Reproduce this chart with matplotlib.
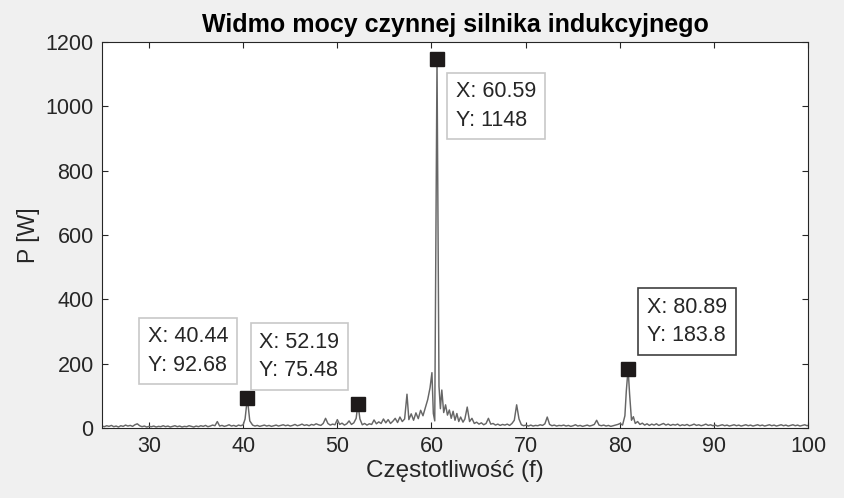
import matplotlib
matplotlib.use("Agg")
import matplotlib.pyplot as plt

# spectrum (Hz, W)
freq_hz = [
    25.0, 25.25, 25.5, 25.75, 26.0, 26.25, 26.5, 26.75, 27.0, 27.25,
    27.5, 27.75, 28.0, 28.25, 28.5, 28.75, 29.0, 29.25, 29.5, 29.75,
    30.0, 30.25, 30.5, 30.75, 31.0, 31.25, 31.5, 31.75, 32.0, 32.25,
    32.5, 32.75, 33.0, 33.25, 33.5, 33.75, 34.0, 34.25, 34.5, 34.75,
    35.0, 35.25, 35.5, 35.75, 36.0, 36.25, 36.5, 36.75, 37.0, 37.25,
    37.5, 37.75, 38.0, 38.25, 38.5, 38.75, 39.0, 39.25, 39.5, 39.75,
    40.0, 40.2, 40.44, 40.7, 41.0, 41.25, 41.5, 41.75, 42.0, 42.25,
    42.5, 42.75, 43.0, 43.25, 43.5, 43.75, 44.0, 44.25, 44.5, 44.75,
    45.0, 45.25, 45.5, 45.75, 46.0, 46.25, 46.5, 46.75, 47.0, 47.25,
    47.5, 47.75, 48.0, 48.25, 48.5, 48.75, 49.0, 49.25, 49.5, 49.75,
    50.0, 50.25, 50.5, 50.75, 51.0, 51.25, 51.5, 51.75, 52.0, 52.19,
    52.4, 52.65, 52.9, 53.15, 53.4, 53.65, 53.9, 54.15, 54.4, 54.65,
    54.9, 55.15, 55.4, 55.65, 55.9, 56.15, 56.4, 56.65, 56.9, 57.15,
    57.4, 57.6, 57.85, 58.1, 58.35, 58.6, 58.85, 59.1, 59.35, 59.6,
    59.85, 60.05, 60.2, 60.35, 60.59, 60.8, 60.95, 61.1, 61.3, 61.5,
    61.7, 61.9, 62.1, 62.3, 62.5, 62.7, 62.9, 63.1, 63.35, 63.55,
    63.8, 64.05, 64.3, 64.55, 64.8, 65.05, 65.3, 65.55, 65.8, 66.05,
    66.3, 66.55, 66.8, 67.05, 67.3, 67.55, 67.8, 68.05, 68.3, 68.55,
    68.8, 69.05, 69.3, 69.55, 69.8, 70.05, 70.3, 70.55, 70.8, 71.05,
    71.3, 71.55, 71.8, 72.05, 72.3, 72.55, 72.8, 73.05, 73.3, 73.55,
    73.8, 74.05, 74.3, 74.55, 74.8, 75.05, 75.3, 75.55, 75.8, 76.05,
    76.3, 76.55, 76.8, 77.05, 77.3, 77.55, 77.8, 78.05, 78.3, 78.55,
    78.8, 79.05, 79.3, 79.55, 79.8, 80.05, 80.3, 80.55, 80.7, 80.89,
    81.05, 81.25, 81.45, 81.65, 81.9, 82.15, 82.4, 82.65, 82.9, 83.15,
    83.4, 83.65, 83.9, 84.15, 84.4, 84.65, 84.9, 85.15, 85.4, 85.65,
    85.9, 86.15, 86.4, 86.65, 86.9, 87.15, 87.4, 87.65, 87.9, 88.15,
    88.4, 88.65, 88.9, 89.15, 89.4, 89.65, 89.9, 90.15, 90.4, 90.65,
    90.9, 91.15, 91.4, 91.65, 91.9, 92.15, 92.4, 92.65, 92.9, 93.15,
    93.4, 93.65, 93.9, 94.15, 94.4, 94.65, 94.9, 95.15, 95.4, 95.65,
    95.9, 96.15, 96.4, 96.65, 96.9, 97.15, 97.4, 97.65, 97.9, 98.15,
    98.4, 98.65, 98.9, 99.15, 99.4, 99.65, 99.9, 100.0,
]
power_w = [
    6, 4, 7, 5, 8, 4, 6, 3, 7, 5,
    9, 6, 8, 5, 10, 13, 7, 4, 6, 3,
    5, 4, 6, 3, 5, 4, 7, 4, 6, 3,
    5, 7, 4, 6, 3, 5, 4, 7, 5, 3,
    6, 4, 7, 5, 8, 4, 6, 9, 7, 20,
    6, 8, 5, 7, 10, 6, 8, 5, 9, 7,
    10, 28, 92.68, 22, 9, 6, 8, 5, 7, 9,
    6, 8, 5, 7, 9, 6, 8, 10, 7, 9,
    6, 8, 11, 7, 9, 12, 8, 10, 7, 11,
    9, 13, 10, 8, 14, 30, 14, 9, 12, 10,
    26, 11, 15, 9, 13, 22, 11, 16, 30, 75.48,
    28, 10, 14, 9, 13, 11, 25, 13, 19, 14,
    28, 16, 26, 14, 21, 30, 17, 34, 20, 28,
    105, 26, 44, 24, 47, 29, 55, 38, 63, 88,
    125, 172, 45, 22, 1148, 130, 60, 118, 48, 72,
    40, 56, 30, 52, 24, 45, 20, 34, 18, 28,
    65, 20, 30, 14, 18, 12, 16, 10, 14, 30,
    12, 14, 9, 12, 8, 11, 9, 12, 8, 14,
    24, 72, 28, 10, 7, 9, 6, 9, 6, 8,
    7, 10, 8, 13, 34, 11, 7, 9, 6, 8,
    7, 9, 6, 8, 5, 7, 10, 6, 8, 5,
    7, 9, 6, 8, 11, 24, 9, 7, 9, 6,
    8, 5, 7, 9, 11, 14, 9, 38, 115, 183.8,
    105, 24, 35, 14, 20, 11, 15, 9, 13, 8,
    12, 9, 13, 8, 11, 14, 9, 12, 8, 11,
    9, 12, 7, 10, 8, 11, 7, 9, 12, 8,
    10, 7, 9, 12, 8, 10, 7, 9, 6, 8,
    10, 7, 9, 6, 8, 10, 7, 9, 6, 8,
    10, 7, 9, 6, 8, 10, 7, 9, 6, 8,
    10, 7, 9, 6, 8, 10, 7, 9, 6, 8,
    10, 7, 9, 6, 8, 10, 7, 8,
]

# data tips shown on the chart
tip_f = [40.44, 52.19, 60.59, 80.89]
tip_p = [92.68, 75.48, 1148, 183.8]
tip_box_side = ["left", "left", "right", "right"]
tip_edge = ["#c8c8c8", "#c8c8c8", "#c8c8c8", "#404040"]

x_ticks = [30, 40, 50, 60, 70, 80, 90, 100]
y_ticks = [0, 200, 400, 600, 800, 1000, 1200]

plt.rcParams["font.family"] = ["Liberation Sans", "DejaVu Sans"]
ink = "#262626"

fig = plt.figure(figsize=(8.45, 4.98), dpi=100, facecolor="#f0f0f0")
ax = fig.add_axes([0.1207, 0.1406, 0.8355, 0.7751])
ax.set_facecolor("white")

ax.plot(freq_hz, power_w, color="#666666", linewidth=1.05, zorder=2)
ax.plot(tip_f, tip_p, linestyle="none", marker="s", markersize=10.5,
        color="#1e1a1a", zorder=3)

for f, p, side, edge in zip(tip_f, tip_p, tip_box_side, tip_edge):
    # box to the right of the marker -> text anchored by its left edge
    if side == "right":
        dx, ha = 13.5, "left"
    else:
        dx, ha = -13.5, "right"
    dy = -34 if p > 1000 else 34
    ax.annotate(f"X: {f:g}\nY: {p:g}", xy=(f, p), xytext=(dx, dy),
                textcoords="offset points", ha=ha, va="center",
                multialignment="left", fontsize=15.5, color=ink,
                linespacing=1.45, zorder=4,
                bbox=dict(boxstyle="square,pad=0.4", facecolor="white",
                          edgecolor=edge, linewidth=1.2))

ax.set_xlim(25, 100)
ax.set_ylim(0, 1200)
ax.set_xticks(x_ticks)
ax.set_yticks(y_ticks)
ax.tick_params(direction="in", length=4.5, width=0.8, colors=ink,
               labelsize=15.5, top=True, right=True, pad=6)
for s in ax.spines.values():
    s.set_color(ink)
    s.set_linewidth(0.8)

ax.set_title("Widmo mocy czynnej silnika indukcyjnego", fontsize=18,
             fontweight="bold", color="black", pad=7)
ax.set_xlabel("Częstotliwość (f)", fontsize=17.5, color=ink, labelpad=2)
ax.set_ylabel("P [W]", fontsize=16.5, color=ink, labelpad=4)

fig.savefig("out.png", dpi=100, facecolor=fig.get_facecolor())
